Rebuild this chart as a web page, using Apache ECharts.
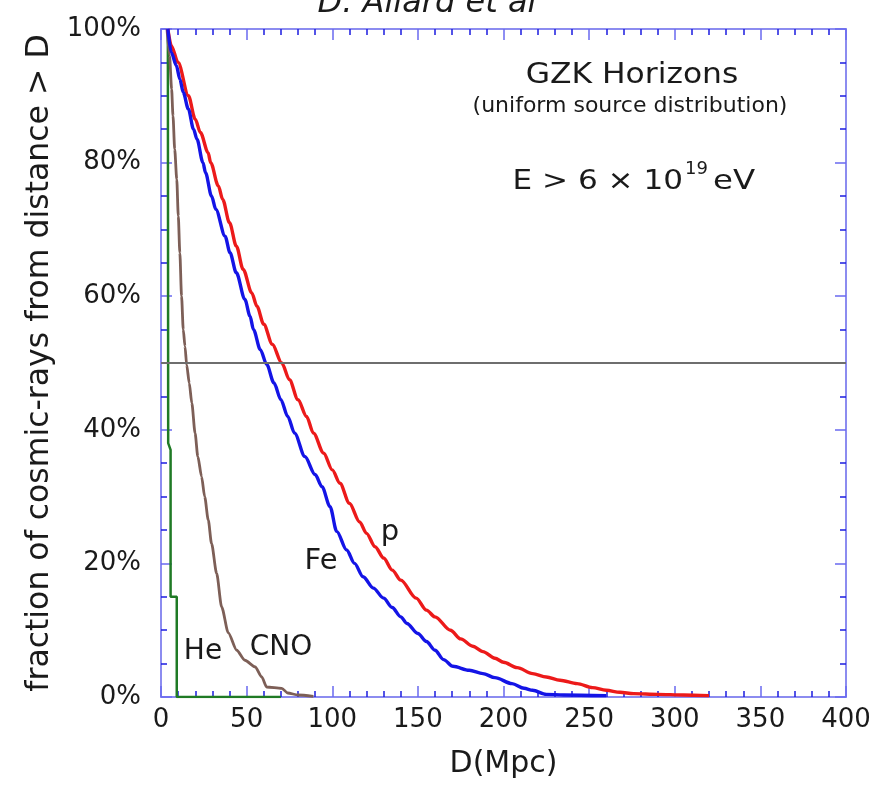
<!DOCTYPE html>
<html>
<head>
<meta charset="utf-8">
<script src="https://cdn.jsdelivr.net/npm/echarts@6/dist/echarts.min.js"></script>
<style>
html,body{margin:0;padding:0;background:#fff;}
#chart{width:889px;height:789px;}
</style>
</head>
<body>
<div id="chart"></div>
<script>
// ---- data (distance D in Mpc, fraction in %) ----
const xTicks = [0, 50, 100, 150, 200, 250, 300, 350, 400];
const yTicks = [0, 20, 40, 60, 80, 100];

const pD = [4, 6, 10, 16, 20, 23, 27.5, 29, 33.5, 36, 40, 44, 48, 53, 56, 60, 65, 70.5, 75, 80, 85, 89, 95, 100, 104.5, 110, 116, 120, 125, 130, 135, 140, 149, 155, 160, 169, 175, 182, 188, 195, 200, 208, 217, 225, 233, 243, 252, 260, 268, 276, 290, 305, 320];
const pF = [100, 97.5, 95, 90, 86.5, 84.5, 81.5, 80, 76.5, 74.5, 71, 67.5, 64, 60.5, 58.5, 55.8, 52.8, 50, 47.5, 44.5, 42, 39.5, 36.5, 34, 32, 29, 26.2, 24.5, 22.5, 20.8, 19, 17.5, 14.8, 13, 12, 10, 8.7, 7.6, 6.8, 5.8, 5.2, 4.4, 3.5, 3, 2.5, 2, 1.4, 1, 0.7, 0.5, 0.4, 0.3, 0.2];

const feD = [4, 6, 9, 11, 13, 16, 19, 21, 24.5, 26, 29.5, 32, 37.4, 40.3, 44, 49, 52, 54, 58, 61.7, 66, 70, 74, 78, 84, 90, 94, 98.7, 102.6, 108.4, 113, 118, 124, 130, 135, 140, 143.6, 150, 155, 160, 165, 170.5, 180, 188, 195, 205, 212, 217, 225, 235, 260];
const feF = [100, 96.5, 94.5, 92.5, 90.5, 88, 85, 83.5, 80, 78.5, 75, 73, 69, 66.5, 63.5, 59.5, 57, 55, 52, 49.8, 47, 44.5, 42, 39.5, 36, 33.3, 31.5, 28.5, 24.8, 22, 20, 18, 16.3, 14.8, 13.4, 12, 11, 9.5, 8.3, 7, 5.6, 4.6, 4, 3.5, 2.9, 2, 1.3, 1, 0.4, 0.3, 0.2];

const cnoD = [3.5, 5, 6.2, 7, 8, 9.2, 10.1, 11, 12, 13, 14, 15, 16.5, 18, 19.9, 21.5, 23.7, 25.5, 27.6, 29.5, 32.5, 35.4, 39.3, 44.2, 49, 55, 58.8, 61.7, 70.5, 74, 80, 89];
const cnoF = [100, 96, 91, 87, 82, 77.5, 72, 66.5, 60, 55, 52.5, 49.7, 47, 44, 39.5, 36, 33, 30, 26.5, 23, 18.5, 13.5, 9.6, 7, 5.5, 4.5, 3, 1.5, 1.3, 0.6, 0.3, 0.1];

const heD = [4, 4.2, 5.6, 5.6, 9.2, 9.2, 70];
const heF = [100, 38, 37, 15, 15, 0, 0];

const zip = (a, b) => a.map((v, i) => [v, b[i]]);

const FONT = 'DejaVu Sans';
const frameColor = '#8c8cf0';
const majorTick = { show: true, inside: true, length: 11, lineStyle: { color: '#6a6af0', width: 1.5 } };
const minorTick = { show: true, length: 6, lineStyle: { color: '#1c1ce0', width: 1.5 } };
const axisLine = { show: true, onZero: false, lineStyle: { color: frameColor, width: 2 } };

const chart = echarts.init(document.getElementById('chart'));
chart.setOption({
  animation: false,
  backgroundColor: '#ffffff',
  grid: { left: 161, right: 43, top: 29, bottom: 92, show: false },
  xAxis: [
    {
      type: 'value', min: 0, max: 400, interval: 50, position: 'bottom',
      name: 'D(Mpc)', nameLocation: 'middle', nameGap: 52,
      nameTextStyle: { fontFamily: FONT, fontSize: 30, color: '#1a1a1a' },
      axisLine: axisLine,
      axisTick: majorTick, minorTick: Object.assign({ splitNumber: 5 }, minorTick),
      splitLine: { show: false },
      axisLabel: { fontFamily: FONT, fontSize: 26, color: '#1a1a1a', margin: 10,
        customValues: xTicks, showMaxLabel: true, showMinLabel: true }
    },
    {
      type: 'value', min: 0, max: 400, interval: 50, position: 'top',
      axisLine: axisLine,
      axisTick: majorTick, minorTick: Object.assign({ splitNumber: 5 }, minorTick),
      splitLine: { show: false }, axisLabel: { show: false }
    }
  ],
  yAxis: [
    {
      type: 'value', min: 0, max: 100, interval: 20, position: 'left',
      name: 'fraction of cosmic-rays from distance > D', nameLocation: 'middle',
      nameRotate: 90, nameGap: 103,
      nameTextStyle: { fontFamily: FONT, fontSize: 31.5, color: '#1a1a1a' },
      axisLine: axisLine,
      axisTick: majorTick, minorTick: Object.assign({ splitNumber: 4 }, minorTick),
      splitLine: { show: false },
      axisLabel: { fontFamily: FONT, fontSize: 26, color: '#1a1a1a', margin: 20,
        formatter: '{value}%', customValues: yTicks }
    },
    {
      type: 'value', min: 0, max: 100, interval: 20, position: 'right',
      axisLine: axisLine,
      axisTick: majorTick, minorTick: Object.assign({ splitNumber: 4 }, minorTick),
      splitLine: { show: false }, axisLabel: { show: false }
    }
  ],
  series: [
    {
      name: 'He', type: 'line', data: zip(heD, heF), symbol: 'none',
      lineStyle: { color: '#1f7a25', width: 2.5 }, itemStyle: { color: '#1f7a25' },
      markLine: {
        silent: true, symbol: 'none', label: { show: false },
        lineStyle: { color: '#6e6e6e', width: 2, type: 'solid' },
        data: [{ yAxis: 50 }]
      }
    },
    {
      name: 'CNO', type: 'line', data: zip(cnoD, cnoF), symbol: 'none',
      smooth: 0.25, smoothMonotone: 'x',
      lineStyle: { color: '#7d5f57', width: 2.8 }, itemStyle: { color: '#7d5f57' }
    },
    {
      name: 'p', type: 'line', data: zip(pD, pF), symbol: 'none',
      smooth: 0.3, smoothMonotone: 'x',
      lineStyle: { color: '#ec1a1a', width: 3.4 }, itemStyle: { color: '#ec1a1a' }
    },
    {
      name: 'Fe', type: 'line', data: zip(feD, feF), symbol: 'none',
      smooth: 0.3, smoothMonotone: 'x',
      lineStyle: { color: '#1414e6', width: 3.4 }, itemStyle: { color: '#1414e6' }
    }
  ],
  graphic: [
    { type: 'text', x: 427, y: 4, style: { text: 'D. Allard et al', fontFamily: FONT, fontSize: 32, fontStyle: 'italic', fill: '#1a1a1a', align: 'center', verticalAlign: 'middle' } },
    { type: 'text', x: 632, y: 76, scaleX: 1.12, style: { text: 'GZK Horizons', fontFamily: FONT, fontSize: 28, fill: '#1a1a1a', align: 'center', verticalAlign: 'middle' } },
    { type: 'text', x: 630, y: 106, style: { text: '(uniform source distribution)', fontFamily: FONT, fontSize: 22, fill: '#1a1a1a', align: 'center', verticalAlign: 'middle' } },
    { type: 'text', x: 683, y: 182, scaleX: 1.15, style: { text: 'E > 6 × 10', fontFamily: FONT, fontSize: 27, fill: '#1a1a1a', align: 'right', verticalAlign: 'middle' } },
    { type: 'text', x: 685, y: 169, style: { text: '19', fontFamily: FONT, fontSize: 18, fill: '#1a1a1a', align: 'left', verticalAlign: 'middle' } },
    { type: 'text', x: 713, y: 182, scaleX: 1.2, style: { text: 'eV', fontFamily: FONT, fontSize: 27, fill: '#1a1a1a', align: 'left', verticalAlign: 'middle' } },
    { type: 'text', x: 390, y: 532, style: { text: 'p', fontFamily: FONT, fontSize: 29, fill: '#1a1a1a', align: 'center', verticalAlign: 'middle' } },
    { type: 'text', x: 321, y: 561, style: { text: 'Fe', fontFamily: FONT, fontSize: 29, fill: '#1a1a1a', align: 'center', verticalAlign: 'middle' } },
    { type: 'text', x: 203, y: 652, style: { text: 'He', fontFamily: FONT, fontSize: 28, fill: '#1a1a1a', align: 'center', verticalAlign: 'middle' } },
    { type: 'text', x: 281, y: 648, style: { text: 'CNO', fontFamily: FONT, fontSize: 28, fill: '#1a1a1a', align: 'center', verticalAlign: 'middle' } }
  ]
});
</script>
</body>
</html>
